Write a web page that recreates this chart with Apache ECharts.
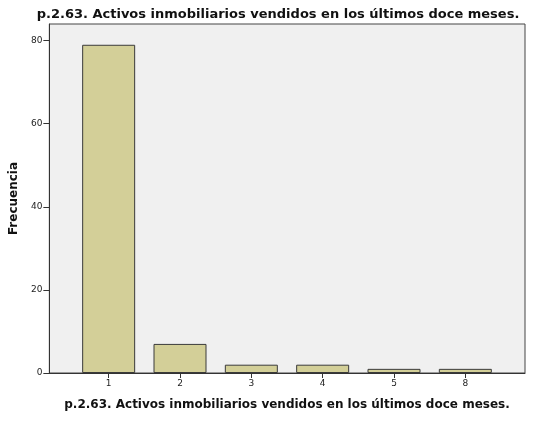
<!DOCTYPE html>
<html>
<head>
<meta charset="utf-8">
<script src="https://cdn.jsdelivr.net/npm/echarts@6/dist/echarts.min.js"></script>
<style>
  html, body { margin: 0; padding: 0; background: #fff; }
  #chart { width: 540px; height: 433px; }
</style>
</head>
<body>
<div id="chart"></div>
<script>
var categories = ['1', '2', '3', '4', '5', '8']
var frecuencias = [79, 7, 2, 2, 1, 1]
var yTicks = [0, 20, 40, 60, 80]
var titulo = 'p.2.63. Activos inmobiliarios vendidos en los últimos doce meses.'

var chart = echarts.init(document.getElementById('chart'))
var font = 'DejaVu Sans'
const optionData = {
  animation: false,
  title: {
    text: titulo,
    left: 273,
    top: 3,
    textAlign: 'center',
    textStyle: { fontFamily: font, fontSize: 13, fontWeight: 'bold', color: '#111' }
  },
  grid: [
    // fondo y ejes exteriores
    { left: 48, right: 15, top: 24, bottom: 60, show: true, backgroundColor: '#f0f0f0', borderColor: '#444', borderWidth: 1 },
    // zona de barras
    { left: 73, right: 39, top: 24, bottom: 60 }
  ],
  xAxis: [
    {
      gridIndex: 0, type: 'value', min: 0, max: 1,
      axisLine: { show: true, lineStyle: { color: '#333', width: 1 } },
      axisTick: { show: false }, axisLabel: { show: false }, splitLine: { show: false }
    },
    {
      gridIndex: 1, type: 'category', data: categories,
      name: titulo, nameLocation: 'middle', nameGap: 26,
      nameTextStyle: { fontFamily: font, fontSize: 12, fontWeight: 'bold', color: '#111' },
      axisLine: { show: false },
      axisTick: { show: true, alignWithLabel: true, length: 5, lineStyle: { color: '#333' } },
      axisLabel: { fontFamily: font, fontSize: 9, color: '#222', margin: 6 }
    }
  ],
  yAxis: [
    {
      gridIndex: 0, type: 'value', min: 0, max: 84,
      name: 'Frecuencia', nameLocation: 'middle', nameGap: 24, nameRotate: 90,
      nameTextStyle: { fontFamily: font, fontSize: 12, fontWeight: 'bold', color: '#111' },
      axisLine: { show: true, lineStyle: { color: '#333', width: 1 } },
      axisTick: { show: true, length: 6, customValues: yTicks, lineStyle: { color: '#333' } },
      axisLabel: { fontFamily: font, fontSize: 9, color: '#222', margin: 7, customValues: yTicks },
      splitLine: { show: false }
    },
    {
      gridIndex: 1, type: 'value', min: 0, max: 84, show: false
    }
  ],
  series: [{
    type: 'bar',
    xAxisIndex: 1,
    yAxisIndex: 1,
    data: frecuencias,
    barWidth: 53,
    itemStyle: { color: '#d3cf98', borderColor: '#3a3a3a', borderWidth: 1 }
  }]
}
chart.setOption(optionData)
</script>
</body>
</html>
